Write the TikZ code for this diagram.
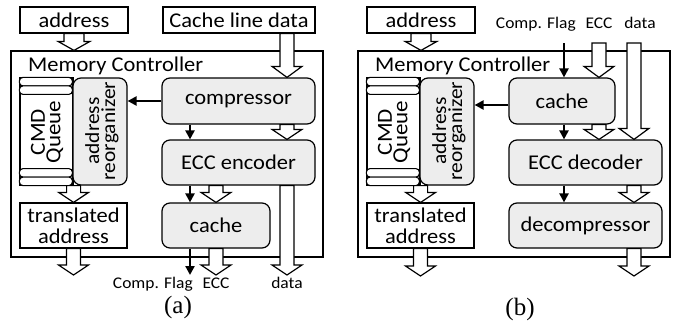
\documentclass[tikz,border=0pt]{standalone}
\usepackage{fontspec}
\setmainfont{Carlito}[FakeStretch=1.07]
\newfontfamily\capfont{Liberation Serif}
\usetikzlibrary{arrows.meta,calc}
% hollow block arrow: #1 shaft half width, #2 head half width, #3 head length, #4 from, #5 to
\newcommand\harrow[5]{%
  \draw[hollow] let \p1=(#4), \p2=(#5) in
   (\x1-#1pt,\y1) -- (\x1+#1pt,\y1) -- (\x1+#1pt,\y2+#3pt) -- (\x1+#2pt,\y2+#3pt)
   -- (\x1,\y2) -- (\x1-#2pt,\y2+#3pt) -- (\x1-#1pt,\y2+#3pt) -- cycle;}
\begin{document}
\begin{tikzpicture}[x=1pt,y=-1pt,
  box/.style={draw, line width=1.2pt, inner sep=0pt, fill=white, font=\fontsize{21}{21}\selectfont, align=center},
  rbox/.style={box, rounded corners=8pt, fill=black!7},
  slot/.style={draw, line width=1.1pt, fill=white, rounded corners=3.5pt},
  hollow/.style={draw, line width=1.2pt, fill=white, line join=miter},
  blk/.style={line width=2.2pt, -{Triangle[length=9pt,width=9pt]}},
  rot/.style={rotate=90, inner sep=0pt, align=center, font=\fontsize{21.5}{15.5}\selectfont},
  small/.style={inner sep=0pt, font=\fontsize{16.3}{18}\selectfont},
  title/.style={inner sep=0pt, anchor=base west, font=\fontsize{21}{24}\selectfont},
  captext/.style={inner sep=0pt, font=\capfont\fontsize{25}{28}\selectfont}]
\useasboundingbox (0,0) rectangle (677,324);

% ================= panel (a) =================
\node[box, minimum width=312pt, minimum height=206pt] (mcA) at (167,154) {};
\node[title] (mclA) at (28,71) {Memory Controller};
\node[box, minimum width=108pt, minimum height=26pt] (addrA) at (74,20) {address};
\node[box, minimum width=152pt, minimum height=26pt] (cldA) at (239,20) {Cache line data};
\node[box, minimum width=53pt, minimum height=107pt] (cmdA) at (46.5,131.5) {};
\draw[slot] (cmdA.north west) rectangle ++(53,8.5);
\draw[slot] ($(cmdA.north west)+(0,8.5)$) rectangle ++(53,8.5);
\draw[slot] ($(cmdA.south west)+(0,-17)$) rectangle ++(53,8.5);
\draw[slot] ($(cmdA.south west)+(0,-8.5)$) rectangle ++(53,8.5);
\node[rot] (cmdAt) at (47,132) {CMD\\Queue};
\node[rbox, minimum width=54pt, minimum height=107pt] (reorgA) at (100,131.5) {};
\node[rot, font=\fontsize{20}{16}\selectfont] (reorgAt) at (102,131) {address\\reorganizer};
\node[box, minimum width=107pt, minimum height=45pt] (trA) at (73.5,225.5) {translated\\address};
\node[rbox, minimum width=153pt, minimum height=46pt] (compA) at (238.5,101) {compressor};
\node[rbox, minimum width=153pt, minimum height=45pt] (eccA) at (238.5,162.5) {ECC encoder};
\node[rbox, minimum width=108pt, minimum height=45pt] (cacheA) at (216,225.5) {cache};
\node[small, anchor=base east] (flagA) at (193,288) {Comp. Flag};
\node[small, anchor=base] (eccLA) at (216,288) {ECC};
\node[small, anchor=base] (dataLA) at (287,288) {data};
\node[captext] (capA) at (178,307) {(a)};

\coordinate (xaF) at (190,0);
\coordinate (xaE) at (216,0);
\coordinate (xaD) at (287,0);
\coordinate (aFend) at (190,275);
\coordinate (aEend) at (216,275);
\coordinate (aDend) at (287,275);
\coordinate (aTend) at (73.5,275);

\harrow{10}{16}{9}{addrA.south}{addrA.south |- mcA.north}
\harrow{7}{15}{11}{cldA.south -| xaD}{compA.north -| xaD}
\harrow{7}{15}{10}{compA.south -| xaD}{eccA.north -| xaD}
\harrow{7}{15}{10}{eccA.south -| xaE}{cacheA.north -| xaE}
\harrow{7}{15}{10}{cacheA.south -| xaE}{aEend}
\harrow{7}{15}{10}{eccA.south -| xaD}{aDend}
\harrow{7}{15}{10}{cmdA.south east}{trA.north -| cmdA.south east}
\harrow{7}{15}{10}{trA.south}{aTend}
\draw[blk] (compA.west) -- (reorgA.east |- compA.west);
\draw[blk] (compA.south -| xaF) -- (eccA.north -| xaF);
\draw[blk] (eccA.south -| xaF) -- (cacheA.north -| xaF);
\draw[blk] (cacheA.south -| xaF) -- (aFend);

% ================= panel (b) =================
\node[box, minimum width=312pt, minimum height=206pt] (mcB) at (514,154) {};
\node[title] (mclB) at (375,71) {Memory Controller};
\node[box, minimum width=108pt, minimum height=26pt] (addrB) at (421,20) {address};
\node[box, minimum width=53pt, minimum height=107pt] (cmdB) at (393.5,131.5) {};
\draw[slot] (cmdB.north west) rectangle ++(53,8.5);
\draw[slot] ($(cmdB.north west)+(0,8.5)$) rectangle ++(53,8.5);
\draw[slot] ($(cmdB.south west)+(0,-17)$) rectangle ++(53,8.5);
\draw[slot] ($(cmdB.south west)+(0,-8.5)$) rectangle ++(53,8.5);
\node[rot] (cmdBt) at (394,132) {CMD\\Queue};
\node[rbox, minimum width=54pt, minimum height=107pt] (reorgB) at (447,131.5) {};
\node[rot, font=\fontsize{20}{16}\selectfont] (reorgBt) at (449,131) {address\\reorganizer};
\node[box, minimum width=107pt, minimum height=45pt] (trB) at (420.5,225.5) {translated\\address};
\node[rbox, minimum width=106pt, minimum height=46pt] (cacheB) at (562,101) {cache};
\node[rbox, minimum width=153pt, minimum height=45pt] (eccB) at (585.5,162.5) {ECC decoder};
\node[rbox, minimum width=153pt, minimum height=45pt] (decB) at (585.5,225.5) {decompressor};
\node[small, anchor=base east] (flagB) at (576,28) {Comp. Flag};
\node[small, anchor=base] (eccLB) at (599,28) {ECC};
\node[small, anchor=base] (dataLB) at (640,28) {data};
\node[captext] (capB) at (520,309) {(b)};

\coordinate (xbF) at (564,0);
\coordinate (xbE) at (599,0);
\coordinate (xbD) at (634,0);
\coordinate (bFst) at (564,43);
\coordinate (bEst) at (599,43);
\coordinate (bDst) at (634,43);
\coordinate (bOend) at (634,276);
\coordinate (bTend) at (420.5,276);
\coordinate (bArr) at ([yshift=-4pt]cacheB.west);

\harrow{10}{16}{9}{addrB.south}{addrB.south |- mcB.north}
\harrow{7}{15}{11}{bEst}{cacheB.north -| xbE}
\harrow{7}{15}{11}{bDst}{eccB.north -| xbD}
\harrow{7}{15}{10}{cacheB.south -| xbE}{eccB.north -| xbE}
\harrow{7}{15}{10}{eccB.south -| xbD}{decB.north -| xbD}
\harrow{7}{15}{10}{decB.south -| xbD}{bOend}
\harrow{7}{15}{10}{cmdB.south east}{trB.north -| cmdB.south east}
\harrow{7}{15}{10}{trB.south}{bTend}
\draw[blk] (bFst) -- (cacheB.north -| xbF);
\draw[blk] (bArr) -- (reorgB.east |- bArr);
\draw[blk] (cacheB.south -| xbF) -- (eccB.north -| xbF);
\draw[blk] (eccB.south -| xbF) -- (decB.north -| xbF);
\end{tikzpicture}
\end{document}
